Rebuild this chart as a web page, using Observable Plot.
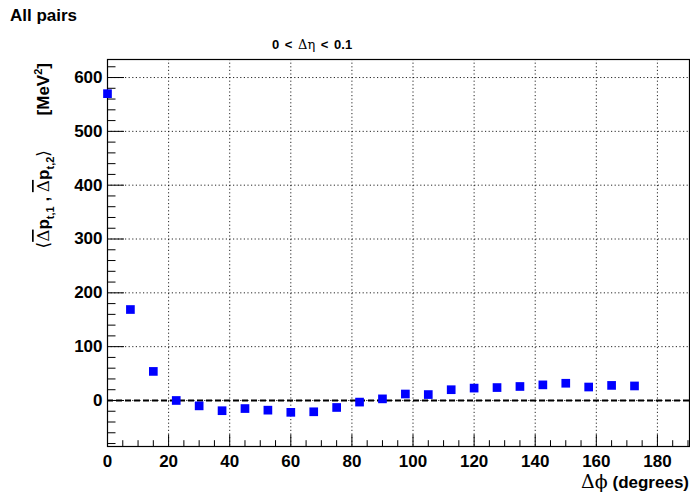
<!DOCTYPE html>
<html>
<head>
<meta charset="utf-8">
<script src="https://cdn.jsdelivr.net/npm/d3@7"></script>
<script src="https://cdn.jsdelivr.net/npm/@observablehq/plot@0.6"></script>
<style>
  html, body { margin: 0; padding: 0; background: #fff; }
  #chart { position: relative; width: 690px; height: 497px; overflow: hidden; }
</style>
</head>
<body>
<div id="chart"></div>
<script>
// Data
const dphi = [0, 7.5, 15, 22.5, 30, 37.5, 45, 52.5, 60, 67.5, 75, 82.5, 90, 97.5, 105, 112.5, 120, 127.5, 135, 142.5, 150, 157.5, 165, 172.5];
const corr = [570, 169, 54, 0, -10, -19, -15, -18, -22, -21, -13, -3, 3, 12, 11, 20, 23, 24, 26, 29, 32, 25, 28, 27];
const xTicks = [0, 20, 40, 60, 80, 100, 120, 140, 160, 180];
const yTicks = [0, 100, 200, 300, 400, 500, 600];
const xMinorTicks = [5, 10, 15, 25, 30, 35, 45, 50, 55, 65, 70, 75, 85, 90, 95, 105, 110, 115, 125, 130, 135, 145, 150, 155, 165, 170, 175, 185, 190];
const yMinorTicks = [-80, -60, -40, -20, 20, 40, 60, 80, 120, 140, 160, 180, 220, 240, 260, 280, 320, 340, 360, 380, 420, 440, 460, 480, 520, 540, 560, 580, 620];

const titleText = "All pairs";
const subtitleText = ["0 < ", "Δη", " < 0.1"];
const xLabelParts = ["Δϕ", " (degrees)"];

const data = dphi.map((x, i) => ({x, y: corr[i]}));

const chart = Plot.plot({
  width: 690,
  height: 497,
  marginTop: 59,
  marginBottom: 51,
  marginLeft: 107,
  marginRight: 1,
  style: {fontFamily: "'Liberation Sans', Arial, sans-serif", fontWeight: "bold", fontSize: "17px", color: "#000", background: "#fff"},
  x: {domain: [0, 190.5], label: null},
  y: {domain: [-85.5, 633.5], label: null},
  marks: [
    Plot.gridX(xTicks.filter(d => d > 0), {stroke: "#000", strokeOpacity: 0.85, strokeDasharray: "1.2,2.4", strokeWidth: 1}),
    Plot.gridY(yTicks, {stroke: "#000", strokeOpacity: 0.85, strokeDasharray: "1.2,2.4", strokeWidth: 1}),
    Plot.ruleY([0], {stroke: "#000", strokeWidth: 1.8, strokeDasharray: "6,3"}),
    Plot.axisY(yTicks, {anchor: "left", tickSize: -17, text: null, strokeWidth: 1}),
    Plot.axisY(yMinorTicks, {anchor: "left", tickSize: -8.5, text: null, strokeWidth: 1}),
    Plot.axisY(yTicks, {anchor: "left", tickSize: 0, tickPadding: 5, tickFormat: d => String(d)}),
    Plot.axisX(xTicks, {anchor: "bottom", tickSize: -11.5, text: null, strokeWidth: 1}),
    Plot.axisX(xMinorTicks, {anchor: "bottom", tickSize: -5.8, text: null, strokeWidth: 1}),
    Plot.axisX(xTicks, {anchor: "bottom", tickSize: 0, tickPadding: 8, tickFormat: d => String(d)}),
    Plot.frame({stroke: "#000", strokeWidth: 1.2}),
    Plot.dot(data, {x: "x", y: "y", symbol: "square", r: 4.9, fill: "#0000ff", stroke: "none"})
  ]
});

document.getElementById("chart").appendChild(chart);

// Annotations (title, subtitle, axis titles)
const svg = d3.select(chart);
const F = "'Liberation Sans', Arial, sans-serif";

svg.append("text")
  .attr("x", 10).attr("y", 21)
  .attr("text-anchor", "start")
  .attr("font-family", F).attr("font-weight", "bold").attr("font-size", 17)
  .text(titleText);

const sub = svg.append("text")
  .attr("x", 272).attr("y", 49)
  .attr("text-anchor", "start")
  .attr("word-spacing", "2px")
  .attr("font-family", F).attr("font-weight", "bold").attr("font-size", 13);
sub.append("tspan").text(subtitleText[0]);
sub.append("tspan").attr("font-weight", "normal").attr("font-family", "'DejaVu Serif', serif").text(subtitleText[1]);
sub.append("tspan").text(subtitleText[2]);

const xl = svg.append("text")
  .attr("x", 689).attr("y", 488)
  .attr("text-anchor", "end")
  .attr("font-family", F).attr("font-weight", "bold").attr("font-size", 17);
xl.append("tspan").attr("font-weight", "normal").attr("font-family", "'DejaVu Serif', serif").attr("font-size", 19).text(xLabelParts[0]);
xl.append("tspan").text(xLabelParts[1]);

// Y label: unit part
const yu = svg.append("text")
  .attr("transform", "translate(49,63) rotate(-90)")
  .attr("text-anchor", "end")
  .attr("font-family", F).attr("font-weight", "bold").attr("font-size", 17);
yu.append("tspan").text("[MeV");
yu.append("tspan").attr("font-size", 11).attr("dy", -7).text("2");
yu.append("tspan").attr("dy", 7).text("]");

// Y label: quantity part
const yq = svg.append("text")
  .attr("transform", "translate(49,150) rotate(-90)")
  .attr("text-anchor", "end")
  .attr("font-family", F).attr("font-weight", "bold").attr("font-size", 17);
yq.append("tspan").attr("font-weight", "normal").attr("font-family", "'DejaVu Sans', sans-serif").text("⟨");
yq.append("tspan").attr("font-weight", "normal").attr("font-family", "'DejaVu Serif', serif").attr("text-decoration", "overline").text("Δ");
yq.append("tspan").text("p");
yq.append("tspan").attr("font-size", 11).attr("dy", 5).text("t,1");
yq.append("tspan").attr("dy", -5).text(" , ");
yq.append("tspan").attr("font-weight", "normal").attr("font-family", "'DejaVu Serif', serif").attr("text-decoration", "overline").text("Δ");
yq.append("tspan").text("p");
yq.append("tspan").attr("font-size", 11).attr("dy", 5).text("t,2");
yq.append("tspan").attr("dy", -5).attr("font-weight", "normal").attr("font-family", "'DejaVu Sans', sans-serif").text("⟩");
</script>
</body>
</html>
